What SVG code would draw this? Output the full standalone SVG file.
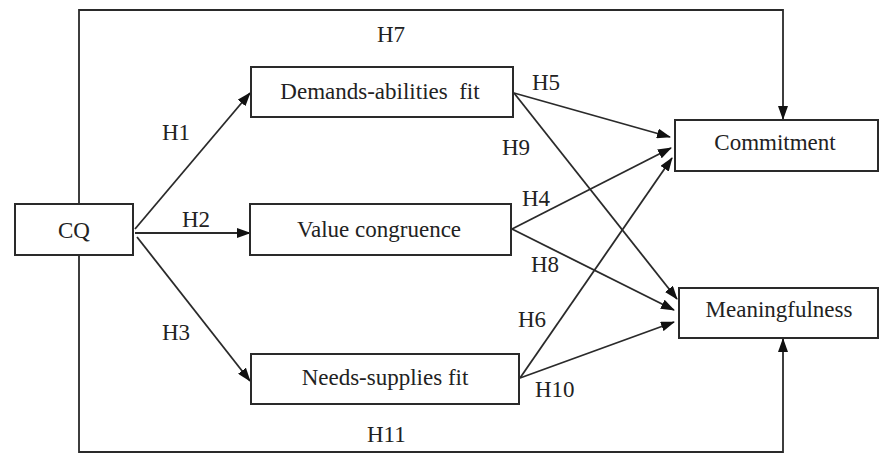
<svg xmlns="http://www.w3.org/2000/svg" width="880" height="455" viewBox="0 0 880 455">
<style>
.box{fill:#fff;stroke:#2a2a2a;stroke-width:2}
.lbl{font-family:"Liberation Serif","Times New Roman",serif;font-size:23px;fill:#222;text-anchor:middle}
.hl{font-family:"Liberation Serif","Times New Roman",serif;font-size:23px;fill:#222}
.edge{fill:none;stroke:#2a2a2a;stroke-width:1.8}
</style>
<defs>
<marker id="arr" markerUnits="userSpaceOnUse" markerWidth="14" markerHeight="10" refX="13" refY="5" orient="auto">
<path d="M0,0 L14,5 L0,10 Z" fill="#111"/>
</marker>
</defs>
<rect width="880" height="455" fill="#fff"/>
<g id="connectors">
<path class="edge" d="M79,204 V10 H783 V119" marker-end="url(#arr)"/>
<path class="edge" d="M79,255 V452 H783 V339" marker-end="url(#arr)"/>
<line class="edge" x1="135" y1="229" x2="250" y2="93" marker-end="url(#arr)"/>
<line class="edge" x1="135" y1="233" x2="250" y2="233" marker-end="url(#arr)"/>
<line class="edge" x1="137" y1="237" x2="250" y2="381" marker-end="url(#arr)"/>
<line class="edge" x1="514" y1="93" x2="670" y2="137" marker-end="url(#arr)"/>
<line class="edge" x1="514" y1="93" x2="677" y2="299" marker-end="url(#arr)"/>
<line class="edge" x1="512" y1="229" x2="671" y2="148" marker-end="url(#arr)"/>
<line class="edge" x1="512" y1="229" x2="674" y2="310" marker-end="url(#arr)"/>
<line class="edge" x1="520" y1="378" x2="672" y2="158" marker-end="url(#arr)"/>
<line class="edge" x1="520" y1="378" x2="674" y2="322" marker-end="url(#arr)"/>
</g>
<g id="labels">
<text class="hl" x="377" y="42">H7</text>
<text class="hl" x="162" y="140">H1</text>
<text class="hl" x="182" y="227">H2</text>
<text class="hl" x="162" y="340">H3</text>
<text class="hl" x="367" y="442">H11</text>
<text class="hl" x="532" y="90">H5</text>
<text class="hl" x="502" y="155">H9</text>
<text class="hl" x="522" y="206">H4</text>
<text class="hl" x="531" y="272">H8</text>
<text class="hl" x="518" y="327">H6</text>
<text class="hl" x="535" y="397">H10</text>
</g>
<g id="node-cq">
<rect class="box" x="15" y="204" width="118" height="51"/>
<text class="lbl" x="74" y="238">CQ</text>
</g>
<g id="node-demands">
<rect class="box" x="251" y="67" width="262" height="50"/>
<text class="lbl" x="380" y="99" xml:space="preserve">Demands-abilities  fit</text>
</g>
<g id="node-value">
<rect class="box" x="250" y="204" width="261" height="51"/>
<text class="lbl" x="379" y="237">Value congruence</text>
</g>
<g id="node-needs">
<rect class="box" x="251" y="354" width="268" height="50"/>
<text class="lbl" x="385" y="385">Needs-supplies fit</text>
</g>
<g id="node-commitment">
<rect class="box" x="675" y="120" width="203" height="51"/>
<text class="lbl" x="775" y="150">Commitment</text>
</g>
<g id="node-meaningfulness">
<rect class="box" x="679" y="288" width="199" height="50"/>
<text class="lbl" x="779" y="317">Meaningfulness</text>
</g>
</svg>
